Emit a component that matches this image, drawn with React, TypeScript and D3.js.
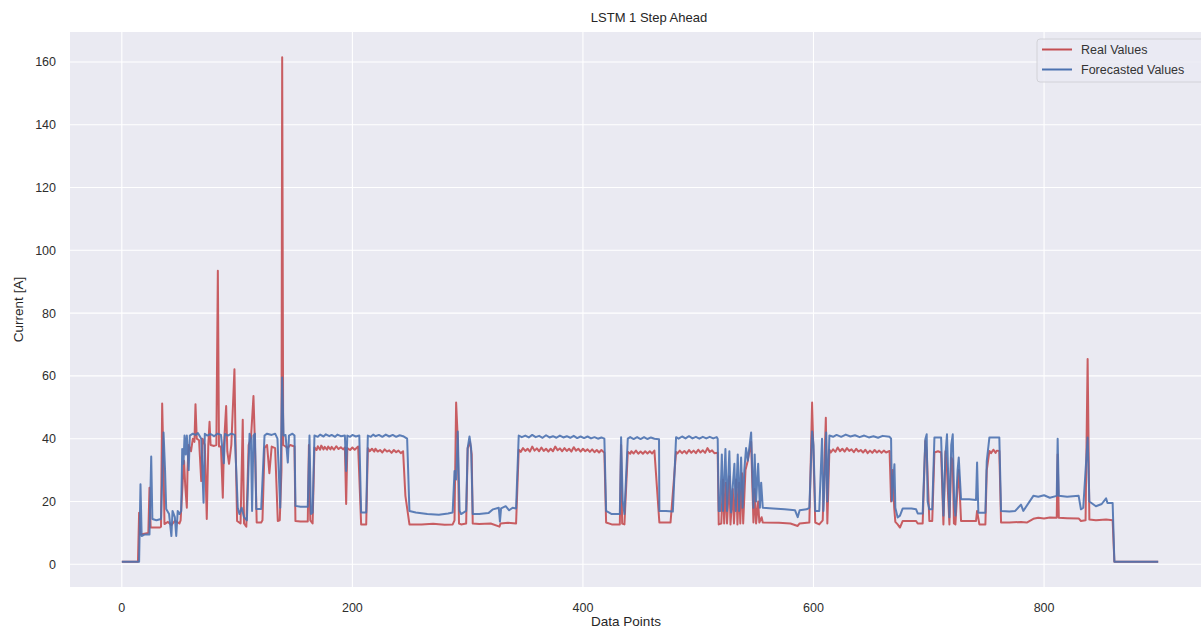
import React, { useEffect, useRef } from 'react';
import * as d3 from 'd3';

// chart texts
const chartTitle = 'LSTM 1 Step Ahead';
const xLabel = 'Data Points';
const yLabel = 'Current [A]';
const seriesNames = ['Real Values', 'Forecasted Values'];
const seriesColors = ['#C44E52', '#4C72B0'];

const xTicks = [0, 200, 400, 600, 800];
const yTicks = [0, 20, 40, 60, 80, 100, 120, 140, 160];

// [data point, current]
const realValues: [number, number][] = [
  [0, 0.8], [14, 0.8], [15, 16.4], [16, 9.5], [23, 10], [24, 24.4], [25, 11.7], [33, 11.7], [34, 12], [35, 51.2],
  [36, 35], [37, 12.8], [40, 13.5], [43, 12.5], [46, 13.8], [50, 13], [51, 14], [53, 27.6], [54, 33], [55, 25],
  [56.4, 18], [57, 30], [58, 38], [60, 36], [61.6, 40], [63, 39], [63.9, 51], [65, 40], [67, 39.5], [68.9, 26.5],
  [70, 40], [72, 38], [73.7, 14.4], [75, 38], [76.1, 45.4], [77, 38], [80, 37.7], [82, 38], [83.3, 93.5], [84.3, 37.5],
  [86, 37.5], [87.6, 21.2], [88.6, 38], [90.5, 50.4], [91.5, 36], [93, 32], [95, 38], [97.7, 62.1], [98.7, 38], [100, 13.8],
  [103, 13], [104.9, 46], [106, 13], [108, 12], [110, 38], [112, 40], [114.2, 53.6], [115.5, 38], [117, 13.3], [120.9, 13.3],
  [122, 14], [123.8, 37], [126, 38], [128, 29], [130, 37.5], [133, 37], [135.3, 13.8], [137, 14], [138.5, 30], [139.1, 161.5],
  [140, 38], [142, 37.5], [144, 37], [146, 38], [149.8, 37.5], [150.6, 13.8], [155, 13.6], [161.3, 13.6], [162.3, 38], [163.5, 14],
  [165.5, 13], [167.1, 37.2], [169, 36.4], [170, 37.6], [172, 36.5], [173, 37.8], [175, 36.6], [176, 37.4], [178, 36.5], [179, 37.5],
  [181, 36.6], [182, 37.4], [184, 36.5], [186, 37.6], [188, 36.7], [190, 37.3], [192, 36.6], [193.5, 37.2],
  [194.6, 19.2], [195.6, 37], [198, 36.4], [200, 37.2], [202, 36.5], [205, 37.5], [207.6, 12.7], [212, 12.7], [213.4, 37], [215, 36],
  [217, 36.8], [219, 35.9], [220, 36.8], [222, 35.9], [224, 36.4], [226, 35.6], [228, 36.6], [230, 35.9], [232, 36.3], [234, 35.5],
  [236, 36.4], [238, 35.7], [240, 36.2], [242, 35.4], [244, 36], [246, 21.8], [249.5, 12.7], [260, 12.7], [270, 12.9], [280, 12.6],
  [287, 12.7], [288.6, 14], [290, 51.5], [291.4, 40], [292.5, 13], [294.3, 12.7], [298.7, 13], [300, 37], [302, 39], [303.5, 35],
  [304.4, 13], [310, 12.8], [320, 13], [327.6, 12], [328.5, 13], [335, 13.2], [342, 13], [344.3, 36.5], [346, 35.8], [348, 37],
  [350, 36.1], [352, 36.8], [354, 35.9], [356, 37.5], [358, 36.2], [360, 36.9], [362, 36], [364, 37.2], [366, 36.1], [368, 36.8],
  [370, 35.9], [372, 36.8], [374, 36], [376, 37.5], [378, 36.3], [380, 36.9], [382, 36], [384, 37], [386, 36.1], [388, 36.8],
  [390, 35.9], [392, 37.3], [394, 36.2], [396, 36.8], [398, 35.9], [400, 36.8], [402, 36], [404, 36.6], [406, 35.8], [408, 36.6],
  [410, 35.7], [412, 36.4], [414, 35.6], [416, 36.4], [418.6, 35.5], [420.1, 13.3], [425, 12.7], [432, 12.7],
  [433.1, 38], [434, 13], [436, 12.7], [438.9, 35.8], [441, 35.2], [442, 36], [444, 35.3], [446, 36.2], [448, 35.2], [450, 35.9],
  [452, 35.2], [454, 36], [456, 35.3], [458, 36], [460, 35.3], [462, 36.2],
  [466.3, 13.3], [470, 13.3], [476, 13.3], [480.8, 35.8], [482, 35.3], [484, 36.2], [486, 35.4], [488, 36.1], [490, 35.3], [492, 36.4],
  [494, 35.5], [496, 36.2], [498, 35.4], [500, 36.5], [502, 35.6], [504, 36.3], [506, 35.5], [508, 37], [510, 35.8], [512, 36.3],
  [514, 35.4], [516.9, 35.5], [517.8, 12.7], [520, 13], [521.5, 27], [522.5, 13], [524, 26], [525, 13], [527, 28],
  [528, 12.7], [530, 24], [531, 13], [533, 27], [534, 12.7], [535.5, 26], [536.5, 13], [538, 29], [539, 13], [541, 30],
  [543, 33], [545.9, 39], [547.9, 13.3], [549, 24], [550.2, 13], [552, 20], [553, 13.3], [555, 15], [556, 13.3], [570, 13.2],
  [580, 13], [586.3, 12.2], [588, 13], [596.4, 13.3], [598.8, 51.5], [600, 35], [601.5, 13.3], [605, 12.7], [608, 14], [610.7, 46.7],
  [612, 13], [613.8, 36.5], [615, 35.6], [617, 36.6], [619, 35.8], [621, 37.2], [623, 36], [625, 36.8], [627, 35.9], [629, 37],
  [631, 36.1], [633, 36.6], [635, 35.7], [637, 36.8], [639, 35.9], [641, 36.4], [643, 35.6], [645, 36.5], [647, 35.4], [649, 36.2],
  [651, 35.5], [653, 36.4], [655, 35.6], [657, 36.2], [659, 35.5], [661, 36.2], [663, 35.6], [666, 36.1], [667.3, 20], [668.5, 30],
  [670, 18], [671, 13.5], [673, 12.7],
  [675, 11.7], [677.4, 13.8], [685, 13.8], [689, 13.8], [690.4, 13], [694.7, 13], [697, 39.3], [698.2, 36], [700.5, 13.8], [703, 13.8],
  [704.9, 35.6], [708, 36], [710.7, 35.6], [712.7, 12.7], [714.5, 36], [715.8, 30], [717.9, 12.7], [719.5, 34], [720.8, 33], [721.8, 13],
  [723.1, 12.7], [725, 25], [726, 30], [728, 13.8], [735, 13.8], [741, 13.8], [741.9, 17], [743.9, 12.7], [749.1, 12.7], [750.3, 30],
  [752.6, 36.1], [754, 35.4], [756, 36.5], [758, 35.5], [759, 36.2], [761.2, 36.1], [762.7, 13.3], [770, 13.3], [780, 13.5], [785, 13.3],
  [790.7, 14.5], [795, 14.8],
  [800, 14.6], [805, 14.9], [811, 14.8], [811.8, 35], [812.8, 14.8], [820, 14.7], [830, 14.6], [832, 13.8], [836, 14], [837.8, 65.4],
  [839.3, 14.3], [845, 14], [853.8, 14.3], [859.5, 14], [861, 0.8], [899, 0.8],
];

const forecastValues: [number, number][] = [
  [0, 0.8], [15, 0.8], [16.2, 25.5], [17.2, 9], [20, 9.5], [24, 9.5], [25.5, 34.3], [26.5, 14.4], [30, 14], [34, 14.4],
  [36.2, 42], [37.5, 30], [38.5, 17.6], [41, 16], [43, 9], [44, 17], [46, 15], [47.2, 9], [48.5, 17], [50, 16],
  [51.5, 17], [52.4, 36.7], [53.5, 32], [54.4, 41], [55.5, 35], [56.4, 41], [58, 30], [59, 41], [61.6, 41.6], [64, 41.2],
  [66, 41.8], [68.9, 40], [70.9, 19.6], [72, 41.6], [74, 41], [77, 41.5], [80, 40.8], [83, 41.6], [86, 41.2], [88.5, 32.2],
  [89.5, 41.5], [92, 41], [95, 41.6], [98, 41.2], [100.6, 18], [102, 16], [104, 18], [106, 15], [108.5, 14], [110.8, 41.6],
  [112, 40], [113, 17], [114.2, 41], [115.5, 41.6], [116.6, 17.6], [120.9, 17.6], [123.8, 41], [126, 41.6], [130, 41.2], [133, 41.6],
  [135, 40], [137.4, 18], [139.1, 59.5], [140.3, 41], [142, 41.2], [144, 32.4], [145, 41], [148, 41.6], [149.8, 41], [150.6, 18.6],
  [155, 18.3], [161.3, 18.3], [162.8, 41], [164, 16], [165.5, 16.5], [167.1, 41], [170, 40.6], [172, 41.3], [175, 40.7], [177, 41.4],
  [180, 40.8], [182, 41.2], [185, 40.6], [187, 41.3], [190, 40.8],
  [193.5, 41], [194.6, 29.7], [195.6, 41], [198, 40.6], [200, 41.2], [203, 40.7], [206, 41], [207.6, 16.5], [212, 16.5], [213.4, 41],
  [216, 40.6], [218, 41.3], [220, 40.8], [223, 41.2], [226, 40.6], [229, 41.3],
  [232, 40.7], [235, 41.2], [238, 40.6], [241, 41.1], [244, 40.8], [247.5, 40], [249.5, 17], [255, 16.5], [265, 16], [275, 15.8],
  [283, 16.2], [287, 16.5],
  [288.6, 29.7], [290, 27], [291.4, 42.3], [293, 17], [294.3, 16], [298.7, 17], [300, 37], [301.6, 40.7], [303, 37], [304.4, 16],
  [310, 16], [318, 16.3], [322, 17.5], [327, 18], [328, 13.6], [329, 17.8], [333, 18.5], [336, 17.2], [339, 18], [342, 17.8],
  [344.3, 41], [347, 40.5], [350, 41], [353, 40.4], [356, 41.2], [359, 40.5], [362, 40.9], [365, 40.3], [368, 41.1], [371, 40.4],
  [374, 40.8], [377, 40.3], [380, 41], [383, 40.4], [386, 40.8], [389, 40.3], [392, 40.9], [395, 40.2], [398, 40.7],
  [401, 40.2], [404, 40.7], [407, 40.1], [410, 40.5], [413, 40], [416, 40.4], [418.6, 40], [420.1, 17], [425, 16], [432, 16],
  [433.1, 40.5], [434.5, 20], [436, 16],
  [438.9, 40], [441, 40.5], [444, 39.9], [447, 40.5], [450, 39.9], [453, 40.5], [456, 39.9], [459, 40.4], [462, 40], [466, 39.8],
  [466.3, 17], [472, 17], [478, 16.8], [480.8, 40.5],
  [483, 40], [486, 40.7], [489, 40.1], [492, 40.8], [495, 40.1], [498, 40.6], [501, 40], [504, 40.6], [507, 40.1], [510, 40.6],
  [513, 40.1], [516, 40.5], [516.9, 40], [517.8, 17], [519, 17], [520.5, 35],
  [521.5, 17], [523.6, 36.7], [525, 17], [527, 36], [528.5, 16.5], [530, 25], [531.4, 32], [532.5, 17], [534.3, 35], [535.5, 17],
  [537.2, 34], [538.5, 18], [540, 30], [541.5, 37], [543, 33], [545.9, 42], [547.9, 18], [549, 35], [550.2, 20], [552, 32],
  [553.5, 18], [554.6, 26], [556, 18], [565, 17.8], [575, 17.5], [584, 17.2], [586.3, 15], [588, 17.2], [594, 17.5], [596.4, 18],
  [598.8, 42.3], [600, 38], [601.5, 17], [605, 17], [607.4, 40], [608.6, 17], [610, 30], [611, 42], [612, 20], [613.8, 41],
  [617, 40.6], [620, 41.2], [624, 40.6], [628, 41.3], [632, 40.7], [636, 41.1], [640, 40.5], [644, 41], [648, 40.4], [652, 40.8],
  [656, 40.3], [660, 40.9], [666, 40.6], [667.3, 40], [668, 20.2], [670.2, 31.9],
  [671, 18], [673, 14.9], [675, 15.5], [677.4, 17.8], [685, 17.8], [689, 17.5], [690.4, 16.2], [694.7, 16.2], [697, 39.8], [698.2, 41.4],
  [699, 20], [700.5, 17.5], [703, 17.5], [704.9, 40.4], [710.7, 40.4], [712.7, 15.5], [714.5, 35], [715.8, 41.4], [717.9, 15], [719.5, 38],
  [720.8, 41.4], [722, 20], [723.1, 15.5], [725, 30], [726, 34], [728, 20.7], [735, 20.7], [741, 20.5], [741.9, 32.4], [743, 16.4],
  [749.1, 16.4], [750.3, 32.9], [752.6, 40.4], [761.2, 40.4], [762.7, 17], [770, 16.8], [775, 17], [780, 19], [782, 17], [790.7, 21.8],
  [795, 21.5], [800, 22], [805, 21.2], [811, 21.8], [811.8, 40], [812.8, 21.8], [820, 21.5], [830, 21.8], [832, 17.5], [834, 18],
  [837.8, 40.4], [839.3, 20], [845, 18.5], [850, 19.2], [853.8, 21], [855, 19.5], [859.5, 19.5], [861, 0.8], [899, 0.8],
];

const W = 1201;
const H = 630;
const margin = { left: 70, top: 32, right: -9, bottom: 43 };
const font = '"Liberation Sans", Arial, sans-serif';

export default function App() {
  const ref = useRef<SVGSVGElement>(null);

  useEffect(() => {
    const svg = d3.select(ref.current);
    svg.selectAll('*').remove();

    const x0 = margin.left;
    const x1 = W - margin.right;
    const y0 = H - margin.bottom;
    const y1 = margin.top;

    // matplotlib style 5% padding around data
    const all = realValues.concat(forecastValues);
    const xExt = d3.extent(all, d => d[0]) as [number, number];
    const yExt = d3.extent(all, d => d[1]) as [number, number];
    const xPad = (xExt[1] - xExt[0]) * 0.05;
    const yPad = (yExt[1] - yExt[0]) * 0.05;

    const x = d3.scaleLinear().domain([xExt[0] - xPad, xExt[1] + xPad]).range([x0, x1]);
    const y = d3.scaleLinear().domain([yExt[0] - yPad, yExt[1] + yPad]).range([y0, y1]);

    svg.append('clipPath').attr('id', 'plot-clip')
      .append('rect').attr('x', x0).attr('y', y1).attr('width', x1 - x0).attr('height', y0 - y1);

    // background
    svg.append('rect')
      .attr('x', x0).attr('y', y1)
      .attr('width', x1 - x0).attr('height', y0 - y1)
      .attr('fill', '#EAEAF2');

    // grid
    const grid = svg.append('g');
    grid.selectAll('.gx').data(xTicks).enter().append('line')
      .attr('x1', d => x(d)).attr('x2', d => x(d))
      .attr('y1', y1).attr('y2', y0)
      .attr('stroke', '#fff').attr('stroke-width', 1.1);
    grid.selectAll('.gy').data(yTicks).enter().append('line')
      .attr('x1', x0).attr('x2', x1)
      .attr('y1', d => y(d)).attr('y2', d => y(d))
      .attr('stroke', '#fff').attr('stroke-width', 1.1);

    // tick labels
    svg.append('g').selectAll('text').data(xTicks).enter().append('text')
      .attr('x', d => x(d)).attr('y', y0 + 25)
      .attr('text-anchor', 'middle')
      .style('font-family', font).style('font-size', '12.5px').attr('fill', '#2e2e2e')
      .text(d => d);
    svg.append('g').selectAll('text').data(yTicks).enter().append('text')
      .attr('x', x0 - 14).attr('y', d => y(d) + 4.5)
      .attr('text-anchor', 'end')
      .style('font-family', font).style('font-size', '12.5px').attr('fill', '#2e2e2e')
      .text(d => d);

    // lines
    const line = d3.line<[number, number]>().x(d => x(d[0])).y(d => y(d[1]));
    const plot = svg.append('g').attr('clip-path', 'url(#plot-clip)');
    [realValues, forecastValues].forEach((s, i) => {
      plot.append('path')
        .attr('d', line(s))
        .attr('fill', 'none')
        .attr('stroke', seriesColors[i])
        .attr('stroke-width', 2)
        .attr('stroke-opacity', 0.9)
        .attr('stroke-linejoin', 'round');
    });

    // titles
    svg.append('text')
      .attr('x', 649).attr('y', 22)
      .attr('text-anchor', 'middle')
      .style('font-family', font).style('font-size', '13px').attr('fill', '#262626')
      .text(chartTitle);
    svg.append('text')
      .attr('x', 626).attr('y', 626)
      .attr('text-anchor', 'middle')
      .style('font-family', font).style('font-size', '13.5px').attr('fill', '#262626')
      .text(xLabel);
    svg.append('text')
      .attr('transform', `translate(23,${(y0 + y1) / 2}) rotate(-90)`)
      .attr('text-anchor', 'middle')
      .style('font-family', font).style('font-size', '13.5px').attr('fill', '#262626')
      .text(yLabel);

    // legend
    const lg = svg.append('g').attr('transform', 'translate(1037,39)');
    lg.append('rect')
      .attr('width', 180).attr('height', 43).attr('rx', 3)
      .attr('fill', '#EAEAF2').attr('fill-opacity', 0.8)
      .attr('stroke', '#d2d2d8');
    seriesNames.forEach((name, i) => {
      lg.append('line')
        .attr('x1', 5).attr('x2', 35)
        .attr('y1', 10.5 + i * 20).attr('y2', 10.5 + i * 20)
        .attr('stroke', seriesColors[i]).attr('stroke-width', 2);
      lg.append('text')
        .attr('x', 44).attr('y', 15 + i * 20)
        .style('font-family', font).style('font-size', '12.5px').attr('fill', '#333')
        .text(name);
    });
  }, []);

  return (
    <svg ref={ref} width={W} height={H}
      style={{ position: 'absolute', left: 0, top: 0, background: '#fff' }} />
  );
}
